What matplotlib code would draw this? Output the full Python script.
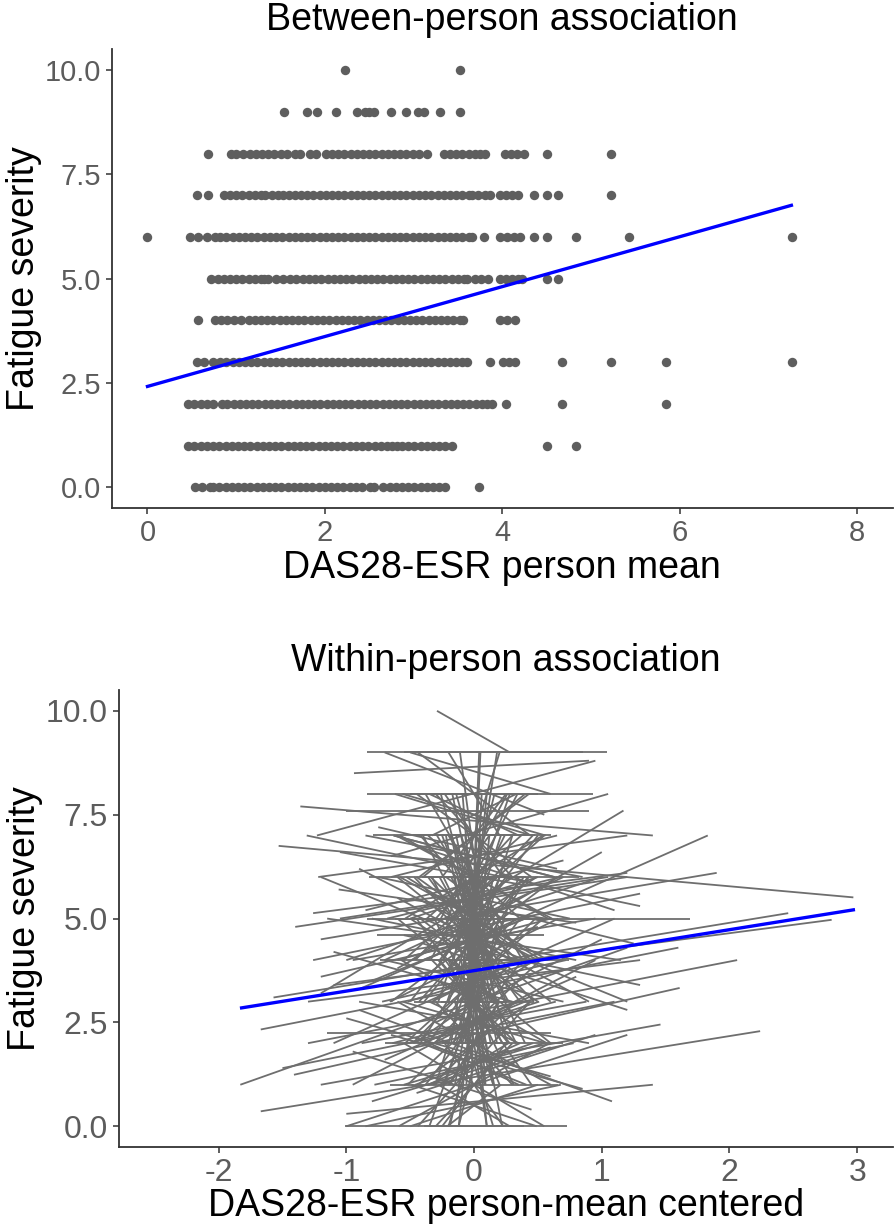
import numpy as np
import matplotlib.pyplot as plt
from matplotlib.collections import LineCollection

plt.rcParams['font.family'] = ['Liberation Sans', 'DejaVu Sans']
plt.rcParams['axes.unicode_minus'] = False

# ---- between-person panel: person-mean DAS28 at each fatigue level ----
x_level_10 = [2.23, 3.52]
x_level_9 = [1.54, 1.80, 1.91, 2.13, 2.36, 2.45, 2.50, 2.55, 2.75, 2.92, 3.05, 3.12, 3.30, 3.52]
x_level_8 = [0.68, 0.94, 1.00, 1.08, 1.16, 1.22, 1.29, 1.36, 1.43, 1.50, 1.57, 1.66, 1.72, 1.83, 1.90,
             2.01, 2.08, 2.15, 2.22, 2.29, 2.36, 2.43, 2.50, 2.57, 2.64, 2.71, 2.78, 2.85, 2.92, 2.99,
             3.06, 3.15, 3.34, 3.41, 3.48, 3.55, 3.62, 3.69, 3.75, 3.81, 4.03, 4.10, 4.17, 4.24, 4.51, 5.23]
x_level_7 = [0.56, 0.68, 0.86, 0.93, 1.00, 1.07, 1.14, 1.21, 1.28, 1.33, 1.40, 1.47, 1.53,
             1.59, 1.66, 1.73, 1.80, 1.87, 1.94, 2.01, 2.08, 2.15, 2.22, 2.29, 2.36, 2.43, 2.50,
             2.57, 2.64, 2.71, 2.78, 2.85, 2.92, 2.99, 3.06, 3.13, 3.20, 3.27, 3.34, 3.41, 3.48,
             3.55, 3.62, 3.66, 3.73, 3.80, 3.86, 3.97, 4.04, 4.11, 4.18, 4.36, 4.50, 4.63, 5.23]
x_level_6 = [0.00, 0.48, 0.57, 0.67, 0.76, 0.82, 0.89, 0.96, 1.03, 1.10, 1.17, 1.24, 1.31, 1.38,
             1.45, 1.52, 1.59, 1.66, 1.73, 1.80, 1.87, 1.94, 2.01, 2.08, 2.15, 2.22, 2.29, 2.36,
             2.43, 2.50, 2.57, 2.64, 2.71, 2.78, 2.85, 2.92, 2.99, 3.06, 3.13, 3.20, 3.27, 3.34,
             3.41, 3.48, 3.55, 3.62, 3.66, 3.79, 3.97, 4.05, 4.13, 4.20, 4.36, 4.50, 4.83, 5.43, 7.27]
x_level_5 = [0.72, 0.79, 0.86, 0.93, 1.00, 1.07, 1.14, 1.21, 1.28, 1.31, 1.36, 1.45, 1.53,
             1.61, 1.68, 1.75, 1.82, 1.89, 1.96, 2.03, 2.10, 2.17, 2.24, 2.31, 2.38, 2.45, 2.52,
             2.59, 2.66, 2.73, 2.80, 2.87, 2.94, 3.01, 3.08, 3.15, 3.22, 3.29, 3.36, 3.43, 3.50,
             3.57, 3.60, 3.69, 3.76, 3.84, 3.97, 4.04, 4.11, 4.18, 4.22, 4.50, 4.63]
x_level_4 = [0.57, 0.76, 0.83, 0.90, 0.98, 1.06, 1.14, 1.21, 1.28, 1.35, 1.42, 1.49, 1.56, 1.63,
             1.70, 1.77, 1.84, 1.91, 1.98, 2.05, 2.12, 2.19, 2.26, 2.33, 2.40, 2.47, 2.54, 2.61,
             2.68, 2.75, 2.82, 2.89, 2.96, 3.03, 3.10, 3.17, 3.24, 3.31, 3.38, 3.45, 3.52, 3.56,
             3.97, 4.05, 4.14]
x_level_3 = [0.56, 0.64, 0.74, 0.82, 0.89, 0.96, 1.03, 1.10, 1.17, 1.24, 1.31, 1.38, 1.45, 1.52,
             1.59, 1.66, 1.73, 1.80, 1.87, 1.94, 2.01, 2.08, 2.15, 2.22, 2.29, 2.36, 2.43, 2.50,
             2.57, 2.64, 2.71, 2.78, 2.85, 2.92, 2.99, 3.06, 3.13, 3.20, 3.27, 3.34, 3.41, 3.48,
             3.55, 3.60, 3.86, 4.01, 4.08, 4.14, 4.67, 5.23, 5.85, 7.27]
x_level_2 = [0.46, 0.53, 0.60, 0.67, 0.74, 0.84, 0.90, 0.97, 1.04, 1.11, 1.18, 1.25, 1.32, 1.39,
             1.46, 1.53, 1.60, 1.67, 1.74, 1.81, 1.88, 1.95, 2.02, 2.09, 2.16, 2.23, 2.30, 2.37,
             2.44, 2.51, 2.58, 2.65, 2.72, 2.79, 2.86, 2.93, 3.00, 3.07, 3.14, 3.21, 3.28, 3.35,
             3.42, 3.49, 3.56, 3.63, 3.70, 3.77, 3.83, 3.88, 4.04, 4.67, 5.85]
x_level_1 = [0.46, 0.53, 0.60, 0.67, 0.74, 0.81, 0.88, 0.95, 1.02, 1.09, 1.16, 1.23, 1.30, 1.37,
             1.44, 1.51, 1.58, 1.65, 1.72, 1.79, 1.86, 1.93, 2.00, 2.07, 2.14, 2.21, 2.28, 2.35,
             2.42, 2.49, 2.56, 2.63, 2.70, 2.76, 2.81, 2.87, 2.94, 3.01, 3.08, 3.15, 3.22, 3.29,
             3.36, 3.43, 4.50, 4.83]
x_level_0 = [0.54, 0.62, 0.71, 0.74, 0.81, 0.89, 0.95, 1.02, 1.09, 1.16, 1.23, 1.30, 1.37, 1.44,
             1.51, 1.58, 1.65, 1.72, 1.79, 1.86, 1.93, 2.00, 2.07, 2.14, 2.21, 2.28, 2.35, 2.42,
             2.51, 2.55, 2.66, 2.73, 2.80, 2.87, 2.94, 3.01, 3.08, 3.15, 3.22, 3.29, 3.36, 3.74]
levels = [x_level_0, x_level_1, x_level_2, x_level_3, x_level_4, x_level_5,
          x_level_6, x_level_7, x_level_8, x_level_9, x_level_10]
between_fit_x = [0.0, 7.26]
between_fit_y = [2.42, 6.76]

# ---- within-person panel: person trajectories (centered DAS28, fatigue) ----
seg_x0 = [-0.29, -0.84, -0.55, -0.50, -0.94, -0.84, -1.36, -1.00, -1.31, -1.23, -1.53, -1.22, -0.90,
          -1.20, -0.84, -1.57, -1.10, -1.30, -1.67, -1.00, -1.20, -0.90, -1.01, -1.20, -1.26, -1.26,
          -1.67, -1.83, -1.15, -1.50, -1.41, -1.00, -1.06, -0.79, -0.76, -0.62, -1.00, -1.10, -1.20,
          -1.30, -0.95, -1.15, -0.70, -1.40, -0.85, -0.65,
          -0.45, -0.30, -0.20, -0.60, -0.15, -0.40, -0.25, -0.50, -0.35, -0.10, -0.55, -0.70, -0.20,
          -0.45, -0.30, -0.65, -0.05, -0.38, -0.48, -0.22, -0.60, -0.12, -0.80, -0.33, -0.50, -0.28,
          -0.42, -0.18, -0.58, -0.25, -0.70, -0.35, -0.15, -0.52, -0.08, -0.44, -0.62, -0.27, -0.90,
          -0.20, -0.40, -0.75, -0.10, -0.55, -0.32, -0.48, -0.66, -0.16, -0.37, -0.85, -0.23, -0.60,
          -0.30, -0.46, -0.13, -0.72, -0.41, -0.26, -0.54, -0.19, -0.95, -0.34, -0.64, -0.07, -0.50,
          -0.29, -0.78, -0.43, -0.21, -0.57, -0.36, -0.11, -0.68, -0.24, -0.49, -0.31, -0.82, -0.17,
          -0.63, -0.39, -0.14, -0.53, -0.27, -0.74, -0.09, -0.47, -0.20, -0.59, -0.33, -1.05, -0.12,
          -0.42, -0.66, -0.25, -0.51, -0.38, -0.88, -0.15, -0.56, -0.30, -0.05, -0.02, -0.44, -0.36,
          -0.06, -0.12, -0.18, -0.09, -0.22, -0.15, -0.30, -0.26, -0.04, -0.35, -0.20, -0.10, -0.40,
          -0.28, -0.45, -0.16, -0.33, -0.07, -0.50, -0.24, -0.38, -0.14, -0.42, -0.19, -0.55, -0.11,
          -0.31, -0.47, -0.08, -0.36, -0.60, -0.21, -0.27, -0.13, -0.52, -0.34, -0.17, -0.44, -0.03,
          -0.29, -0.58, -0.23, -0.39, -0.12, -0.49, -0.26, -0.65, -0.18, -0.32, -0.07, -0.43, -0.20,
          -0.54, -0.15, -0.37, -0.10, -0.46, -0.28, -0.61, -0.05, -0.35, -0.22, -0.50, -0.14, -0.40,
          -0.30, -0.70, -0.09, -0.25, -0.56, -0.18, -0.41, -0.33, -0.12, -0.47, -0.20, -0.63, -0.27,
          -0.36, -0.16, -0.80, -0.60, -0.90, -0.30, -1.10, -0.70, -0.50, -1.00, -0.40, -0.85, -0.60,
          -1.20, -0.45, -0.75, -0.95, -0.35, -0.65, -1.05, -0.55, -0.80]
seg_y0 = [10.0, 9.0, 9.0, 9.0, 8.5, 8.0, 7.7, 7.6, 7.0, 7.0, 6.75, 6.0, 3.3,
          4.5, 5.0, 3.1, 3.4, 2.0, 0.36, 0.3, 1.0, 2.8, 0.0, 3.2, 5.13, 4.0,
          2.33, 1.0, 2.24, 1.4, 1.24, 0.0, 5.7, 7.0, 4.6, 8.0, 4.0, 2.0, 6.0,
          3.0, 1.0, 5.0, 9.0, 4.8, 0.0, 6.5,
          6, 5, 3, 4, 1, 2, 7, 5, 3, 2, 1, 4, 0,
          8, 6, 6, 3, 4, 2, 5, 3, 0, 5, 7, 0, 1,
          5, 6, 7, 2, 2, 8, 4, 3, 5, 1, 5, 4, 3,
          7, 6, 6, 4, 2, 3, 7, 1, 2, 5, 7, 8, 6,
          0, 4, 6, 3, 2, 3, 5, 1, 4, 6, 2, 7, 8,
          5, 1, 3, 0, 4, 7, 3, 5, 4, 1, 2, 6, 5,
          7, 0, 8, 6, 1, 4, 6, 3, 9, 0, 4, 5, 2,
          7, 3, 6, 2, 1, 2, 7, 8, 3, 2, 1, 9, 6,
          1, 0, 2, 8, 7, 6, 1, 8, 3, 0, 5, 6, 7,
          3, 5, 4, 6, 2, 3, 1, 8, 7, 2, 0, 4, 9,
          5, 6, 4, 2, 5, 3, 6, 5, 1, 4, 8, 0, 5,
          7, 6, 2, 3, 1, 4, 5, 3, 7, 1, 6, 6, 4,
          2, 3, 5, 7, 1, 4, 7, 4, 2, 6, 5, 2, 4,
          8, 4, 3, 0, 3, 5, 6, 3, 6, 2, 1, 7, 4,
          1, 4, 3.5, 5.5, 6.2, 2.5, 4.2, 1.6, 6.8, 2.6, 4.4, 5.2, 3.8,
          3.6, 0.8, 7.2, 1.8, 5.6, 2.2, 6.6, 4.6, 0.6]
seg_x1 = [0.28, 1.04, 0.85, 0.60, 0.90, 0.93, 1.40, 0.90, 1.30, 0.95, 2.97, 1.20, 1.83,
          1.90, 1.69, 2.46, 2.80, 2.06, 2.24, 1.40, 1.46, 1.08, 0.73, 1.17, 1.20, 1.30,
          1.60, 1.20, 0.60, 1.10, 1.61, 1.20, 0.80, 0.60, 0.55, 0.45, 1.00, 1.10, 1.20,
          1.30, 0.95, 1.15, 0.55, 1.20, 0.68, 1.05,
          0.45, 0.30, 0.20, 0.60, 0.15, 0.40, 0.25, 0.50, 0.35, 0.10, 0.55, 0.70, 0.20,
          0.45, 0.30, 0.65, 0.05, 0.38, 0.48, 0.22, 0.60, 0.12, 0.80, 0.33, 0.50, 0.28,
          0.42, 0.18, 0.58, 0.25, 0.70, 0.35, 0.15, 0.52, 0.08, 0.44, 0.62, 0.27, 0.90,
          0.20, 0.40, 0.75, 0.10, 0.55, 0.32, 0.48, 0.66, 0.16, 0.37, 0.85, 0.23, 0.60,
          0.30, 0.46, 0.13, 0.72, 0.41, 0.26, 0.54, 0.19, 0.95, 0.34, 0.64, 0.07, 0.50,
          0.29, 0.78, 0.43, 0.21, 0.57, 0.36, 0.11, 0.68, 0.24, 0.49, 0.31, 0.82, 0.17,
          0.63, 0.39, 0.14, 0.53, 0.27, 0.74, 0.09, 0.47, 0.20, 0.59, 0.33, 1.05, 0.12,
          0.42, 0.66, 0.25, 0.51, 0.38, 0.88, 0.15, 0.56, 0.30, 0.05, 0.02, 0.44, 0.36,
          0.06, 0.12, 0.18, 0.09, 0.22, 0.15, 0.30, 0.26, 0.04, 0.35, 0.20, 0.10, 0.40,
          0.28, 0.45, 0.16, 0.33, 0.07, 0.50, 0.24, 0.38, 0.14, 0.42, 0.19, 0.55, 0.11,
          0.31, 0.47, 0.08, 0.36, 0.60, 0.21, 0.27, 0.13, 0.52, 0.34, 0.17, 0.44, 0.03,
          0.29, 0.58, 0.23, 0.39, 0.12, 0.49, 0.26, 0.65, 0.18, 0.32, 0.07, 0.43, 0.20,
          0.54, 0.15, 0.37, 0.10, 0.46, 0.28, 0.61, 0.05, 0.35, 0.22, 0.50, 0.14, 0.40,
          0.30, 0.70, 0.09, 0.25, 0.56, 0.18, 0.41, 0.33, 0.12, 0.47, 0.20, 0.63, 0.27,
          0.36, 0.16, 0.40, 0.90, 0.50, 1.00, 0.30, 0.80, 1.10, 0.60, 1.20, 0.70, 1.00,
          0.50, 0.95, 0.65, 0.45, 1.25, 0.85, 0.40, 1.30, 0.60]
seg_y1 = [9.0, 9.0, 9.0, 8.0, 8.8, 8.0, 7.0, 7.6, 5.3, 8.8, 5.51, 7.0, 7.0,
          6.1, 5.0, 5.13, 4.97, 4.0, 2.29, 1.0, 2.45, 0.6, 0.0, 7.6, 6.1, 5.6,
          4.3, 4.3, 2.24, 3.0, 3.33, 2.2, 4.9, 7.0, 4.6, 7.0, 6.0, 5.0, 3.0,
          4.0, 4.0, 4.0, 7.5, 6.0, 1.0, 8.0,
          4, 7, 6, 5, 6, 3, 3, 6, 2, 8, 2, 3, 4,
          6, 6, 7, 7, 4, 5, 2, 1, 3, 4, 8, 1, 0,
          3, 4, 5, 2, 2, 7, 1, 4, 1, 3, 5, 6, 2,
          5, 8, 5, 0, 0, 5, 7, 1, 5, 5, 6, 6, 3,
          2, 7, 2, 4, 1, 3, 7, 3, 5, 4, 3, 4, 8,
          4, 2, 6, 1, 2, 5, 4, 6, 7, 0, 4, 6, 5,
          6, 0, 5, 4, 2, 4, 3, 3, 7, 2, 2, 6, 2,
          4, 5, 8, 3, 4, 3, 7, 7, 1, 9, 6, 7, 3,
          8, 7, 9, 1, 0, 1, 7, 2, 9, 6, 9, 0, 2,
          8, 1, 8, 2, 6, 7, 5, 4, 3, 6, 5, 7, 4,
          1, 3, 2, 5, 2, 7, 3, 3, 4, 8, 3, 3, 2,
          4, 4, 0, 6, 4, 6, 8, 6, 2, 3, 4, 8, 1,
          5, 0, 7, 5, 2, 2, 5, 6, 1, 5, 3, 4, 5,
          6, 6, 5, 2, 2, 6, 6, 4, 7, 4, 3, 6, 2,
          2, 3, 5, 3, 4, 4.5, 3, 3.6, 5.2, 1.2, 2.8, 6.4, 6.6,
          4.8, 2.2, 6.2, 0.4, 4.4, 0.9, 5.8, 3.4, 1.9]
within_fit_x = [-1.82, 2.97]
within_fit_y = [2.85, 5.21]

title_kw = dict(fontsize=27, color='black', pad=14)
label_kw = dict(fontsize=27, color='black')
axis_col = '#333333'
tick_col = '#5c5c5c'


def style(ax, tick_size):
    for side in ['top', 'right']:
        ax.spines[side].set_visible(False)
    for side in ['left', 'bottom']:
        ax.spines[side].set_color(axis_col)
        ax.spines[side].set_linewidth(1.3)
    ax.tick_params(colors=axis_col, labelcolor=tick_col, labelsize=tick_size,
                   length=4, width=1.1, pad=4)
    ax.set_yticks([0, 2.5, 5, 7.5, 10])
    ax.set_yticklabels(['0.0', '2.5', '5.0', '7.5', '10.0'])
    ax.set_ylim(-0.5, 10.5)


fig = plt.figure(figsize=(8.96, 12.31), dpi=100)

ax_b = fig.add_axes([0.125, 0.5871, 0.8711, 0.3729])
for lev, xs in enumerate(levels):
    ax_b.scatter(xs, [lev] * len(xs), s=46, color='#5e5e5e', linewidths=0, zorder=2)
ax_b.plot(between_fit_x, between_fit_y, color='#0000ff', lw=2.4, zorder=3)
ax_b.set_xlim(-0.4, 8.4)
ax_b.set_xticks([0, 2, 4, 6, 8])
style(ax_b, 21)
ax_b.set_title('Between-person association', **title_kw)
ax_b.set_xlabel('DAS28-ESR person mean', labelpad=2, **label_kw)
ax_b.set_ylabel('Fatigue severity', labelpad=2, **label_kw)

ax_w = fig.add_axes([0.1328, 0.0682, 0.8638, 0.3712])
segs = [[(a, b), (c, d)] for a, b, c, d in zip(seg_x0, seg_y0, seg_x1, seg_y1)]
ax_w.add_collection(LineCollection(segs, colors='#6e6e6e', linewidths=1.3, zorder=2))
ax_w.plot(within_fit_x, within_fit_y, color='#0000ff', lw=2.4, zorder=3)
ax_w.set_xlim(-2.78, 3.28)
ax_w.set_xticks([-2, -1, 0, 1, 2, 3])
style(ax_w, 23)
ax_w.set_title('Within-person association', **title_kw)
ax_w.set_xlabel('DAS28-ESR person-mean centered', labelpad=0, **label_kw)
ax_w.set_ylabel('Fatigue severity', labelpad=2, **label_kw)

plt.savefig('out.png', dpi=100)
